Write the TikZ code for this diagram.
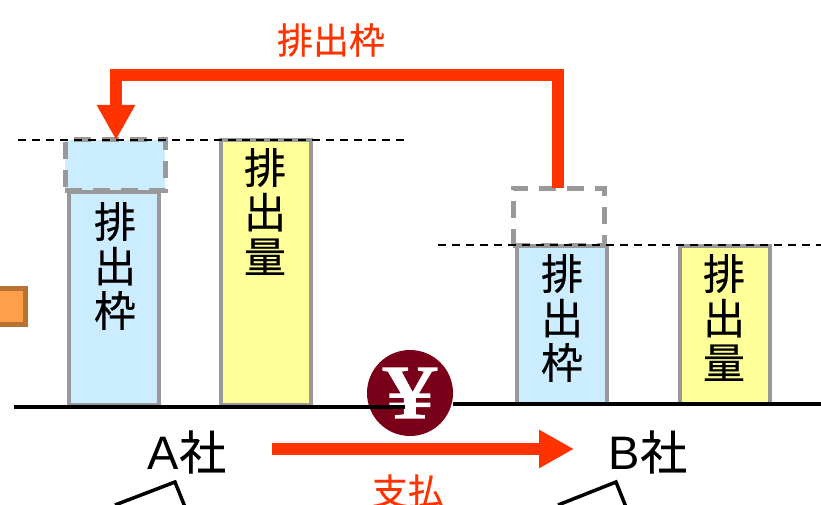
\documentclass[tikz,border=0pt]{standalone}
\usepackage{fontspec}
\setmainfont{Liberation Sans}
\newfontfamily\cjk[FakeBold=0.4]{Noto Sans CJK JP}
\newfontfamily\yenfont[FakeBold=2]{Liberation Serif}
\usetikzlibrary{arrows.meta}
\definecolor{frameblue}{HTML}{CCECFF}
\definecolor{amountyellow}{HTML}{FFFF99}
\definecolor{boxgray}{HTML}{999999}
\definecolor{flowred}{HTML}{FF3300}
\definecolor{yenred}{HTML}{7A0019}
\definecolor{squarefill}{HTML}{FF9F4A}
\definecolor{squareline}{HTML}{B87333}
\begin{document}
\begin{tikzpicture}[x=1pt, y=-1pt, line join=miter,
    bar/.style={draw=boxgray, line width=4pt, anchor=north west, inner sep=0pt, outer sep=0pt},
    dashbar/.style={bar, line width=5pt, dash pattern=on 17pt off 11pt},
    barlabel/.style={align=center, font=\cjk\fontsize{42}{44.5}\selectfont, inner sep=0pt, anchor=north},
    flow/.style={draw=flowred, line width=12pt, -{Triangle[width=36pt, length=35pt]}},
    level/.style={black, line width=2pt, dash pattern=on 8pt off 6pt},
    ground/.style={black, line width=4pt},
    company/.style={font=\fontsize{47}{47}\selectfont, inner sep=0pt},
    redlabel/.style={text=flowred, font=\cjk\fontsize{36}{36}\selectfont, inner sep=0pt}]
        \useasboundingbox (0,0) rectangle (821,505);

        % left company
        \node[bar, fill=frameblue, minimum width=90pt, minimum height=213pt] (frameA) at (69,192) {};
        \node[bar, fill=amountyellow, minimum width=90pt, minimum height=265pt] (amountA) at (221,140) {};
        \node[dashbar, fill=frameblue, minimum width=100pt, minimum height=50pt] (addA) at (65,140) {};
        \node[barlabel] (frameAtext) at (115,202) {排\\出\\枠};
        \node[barlabel] (amountAtext) at (265,148) {排\\出\\量};

        % right company
        \node[bar, fill=frameblue, minimum width=90pt, minimum height=158pt] (frameB) at (517,246) {};
        \node[bar, fill=amountyellow, minimum width=90pt, minimum height=158pt] (amountB) at (680,246) {};
        \node[dashbar, minimum width=91pt, minimum height=57pt] (addB) at (513,188) {};
        \node[barlabel] (frameBtext) at (562,254) {排\\出\\枠};
        \node[barlabel] (amountBtext) at (724,254) {排\\出\\量};

        \coordinate (levelAl) at (18,140);
        \coordinate (levelAr) at (405,140);
        \coordinate (levelBl) at (438,245);
        \coordinate (levelBr) at (821,245);
        \draw[level] (levelAl) -- (levelAr);
        \draw[level] (levelBl) -- (levelBr);

        \node[circle, fill=yenred, minimum size=86pt, inner sep=0pt] (yen) at (410,393) {};
        \node[text=white, font=\yenfont\fontsize{76}{76}\selectfont, inner sep=0pt, xscale=1.4] (yentext) at (410,393) {¥};

        \coordinate (groundAl) at (14,407);
        \coordinate (groundAr) at (405,407);
        \coordinate (groundBl) at (453,404);
        \coordinate (groundBr) at (821,404);
        \draw[ground] (groundAl) -- (groundAr);
        \draw[ground] (groundBl) -- (groundBr);

        \node[draw=squareline, fill=squarefill, line width=5pt, minimum size=36pt, inner sep=0pt] (square) at (7,306) {};

        \node[company] (nameA) at (187,452) {A{\cjk 社}};
        \node[company] (nameB) at (648,452) {B{\cjk 社}};

        % transfer and payment
        \coordinate (turnB) at (558,75);
        \coordinate (turnA) at (116,75);
        \coordinate (startB) at (558,188);
        \coordinate (endA) at (116,140);
        \draw[flow] (startB) -- (turnB) -- (turnA) -- (endA);
        \coordinate (payA) at (272,449);
        \coordinate (payB) at (574,449);
        \draw[flow] (payA) -- (payB);
        \node[redlabel] (transfertext) at (331,40) {排出枠};
        \node[redlabel] (paytext) at (408,491) {支払};

        % roofs at the lower edge
        \coordinate (roofAl) at (115,505);
        \coordinate (roofAt) at (175,482);
        \coordinate (roofAr) at (185,507);
        \coordinate (roofBl) at (558,505);
        \coordinate (roofBt) at (616,482);
        \coordinate (roofBr) at (626,507);
        \draw[black, line width=3.5pt] (roofAl) -- (roofAt) -- (roofAr);
        \draw[black, line width=3.5pt] (roofBl) -- (roofBt) -- (roofBr);
\end{tikzpicture}
\end{document}
